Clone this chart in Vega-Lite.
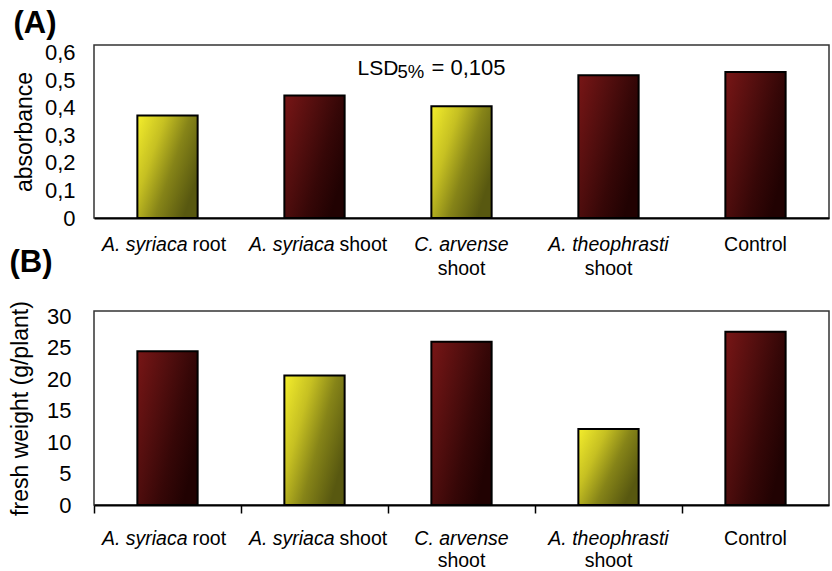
{
  "$schema": "https://vega.github.io/schema/vega-lite/v6.json",
  "padding": {"left": 8, "top": 6, "right": 0, "bottom": 0},
  "bounds": "flush",
  "spacing": 93,
  "config": {
    "font": "Liberation Sans",
    "view": {"stroke": "#333333", "strokeWidth": 1.5},
    "axis": {"grid": false, "labelColor": "black", "titleColor": "black", "titleFontWeight": "normal", "labelOverlap": false}
  },
  "datasets": {
    "absorbance": [
      {"treatment": "A. syriaca root", "value": 0.372, "lower": true, "itInline": "A. syriaca", "rgInline": "root", "itLine1": "", "rgLine1": "", "rgLine2": ""},
      {"treatment": "A. syriaca shoot", "value": 0.445, "lower": false, "itInline": "A. syriaca", "rgInline": "shoot", "itLine1": "", "rgLine1": "", "rgLine2": ""},
      {"treatment": "C. arvense shoot", "value": 0.406, "lower": true, "itInline": "", "rgInline": "", "itLine1": "C. arvense", "rgLine1": "", "rgLine2": "shoot"},
      {"treatment": "A. theophrasti shoot", "value": 0.518, "lower": false, "itInline": "", "rgInline": "", "itLine1": "A. theophrasti", "rgLine1": "", "rgLine2": "shoot"},
      {"treatment": "Control", "value": 0.53, "lower": false, "itInline": "", "rgInline": "", "itLine1": "", "rgLine1": "Control", "rgLine2": ""}
    ],
    "freshweight": [
      {"treatment": "A. syriaca root", "value": 24.4, "lower": false, "itInline": "A. syriaca", "rgInline": "root", "itLine1": "", "rgLine1": "", "rgLine2": ""},
      {"treatment": "A. syriaca shoot", "value": 20.55, "lower": true, "itInline": "A. syriaca", "rgInline": "shoot", "itLine1": "", "rgLine1": "", "rgLine2": ""},
      {"treatment": "C. arvense shoot", "value": 25.9, "lower": false, "itInline": "", "rgInline": "", "itLine1": "C. arvense", "rgLine1": "", "rgLine2": "shoot"},
      {"treatment": "A. theophrasti shoot", "value": 12.05, "lower": true, "itInline": "", "rgInline": "", "itLine1": "A. theophrasti", "rgLine1": "", "rgLine2": "shoot"},
      {"treatment": "Control", "value": 27.5, "lower": false, "itInline": "", "rgInline": "", "itLine1": "", "rgLine1": "Control", "rgLine2": ""}
    ]
  },
  "vconcat": [
    {
      "title": {"text": "(A)", "anchor": "start", "frame": "bounds", "fontSize": 31, "fontWeight": "bold", "color": "black", "font": "Liberation Sans", "offset": 2},
      "width": 735,
      "height": 173,
      "data": {"name": "absorbance"},
      "encoding": {
        "x": {"field": "treatment", "type": "nominal",
              "sort": ["A. syriaca root", "A. syriaca shoot", "C. arvense shoot", "A. theophrasti shoot", "Control"],
              "scale": {"domain": ["A. syriaca root", "A. syriaca shoot", "C. arvense shoot", "A. theophrasti shoot", "Control"], "paddingInner": 0, "paddingOuter": 0},
              "axis": {"labels": false, "ticks": false, "domain": true, "domainColor": "black", "domainWidth": 2, "title": null}}
      },
      "layer": [
        {
          "transform": [{"filter": "!datum.lower"}],
          "mark": {"type": "bar", "width": {"band": 0.41}, "stroke": "black", "strokeWidth": 2,
                   "fill": {"gradient": "linear", "x1": 0, "y1": 0, "x2": 1, "y2": 0.6, "stops": [{"offset": 0, "color": "#781616"}, {"offset": 0.4, "color": "#520e0e"}, {"offset": 0.7, "color": "#360707"}, {"offset": 1, "color": "#210202"}]}},
          "encoding": {
            "y": {"field": "value", "type": "quantitative",
                  "scale": {"domain": [0, 0.628], "nice": false},
                  "axis": {"title": "absorbance", "titleFontSize": 23, "titlePadding": 8, "labelFontSize": 22, "labelPadding": 19,
                           "labelOverlap": false, "tickCount": 7,
                           "ticks": false, "domain": false, "values": [0, 0.1, 0.2, 0.3, 0.4, 0.5, 0.6],
                           "labelExpr": "datum.value == 0 ? '0' : replace(format(datum.value, '.1f'), '.', ',')"}}
          }
        },
        {
          "transform": [{"filter": "datum.lower"}],
          "mark": {"type": "bar", "width": {"band": 0.41}, "stroke": "black", "strokeWidth": 2,
                   "fill": {"gradient": "linear", "x1": 0, "y1": 0, "x2": 1, "y2": 0.6, "stops": [{"offset": 0, "color": "#f4ee2c"}, {"offset": 0.35, "color": "#c6c022"}, {"offset": 0.65, "color": "#868418"}, {"offset": 1, "color": "#585810"}]}},
          "encoding": {"y": {"field": "value", "type": "quantitative"}}
        },
        {
          "mark": {"type": "text", "align": "right", "baseline": "alphabetic", "dx": 20, "dy": 33, "fontSize": 19.5, "fontStyle": "italic", "color": "black"},
          "encoding": {"y": {"value": "height"}, "text": {"field": "itInline"}}
        },
        {
          "mark": {"type": "text", "align": "left", "baseline": "alphabetic", "dx": 25, "dy": 33, "fontSize": 19.5, "color": "black"},
          "encoding": {"y": {"value": "height"}, "text": {"field": "rgInline"}}
        },
        {
          "mark": {"type": "text", "align": "center", "baseline": "alphabetic", "dy": 33, "fontSize": 19.5, "fontStyle": "italic", "color": "black"},
          "encoding": {"y": {"value": "height"}, "text": {"field": "itLine1"}}
        },
        {
          "mark": {"type": "text", "align": "center", "baseline": "alphabetic", "dy": 33, "fontSize": 19.5, "color": "black"},
          "encoding": {"y": {"value": "height"}, "text": {"field": "rgLine1"}}
        },
        {
          "mark": {"type": "text", "align": "center", "baseline": "alphabetic", "dy": 57, "fontSize": 19.5, "color": "black"},
          "encoding": {"y": {"value": "height"}, "text": {"field": "rgLine2"}}
        },
        {
          "data": {"values": [{}]},
          "mark": {"type": "text", "text": "LSD", "align": "left", "baseline": "alphabetic", "dx": -104, "fontSize": 21, "color": "black"},
          "encoding": {"x": {"datum": "C. arvense shoot"}, "y": {"datum": 0.52}}
        },
        {
          "data": {"values": [{}]},
          "mark": {"type": "text", "text": "5%", "align": "left", "baseline": "alphabetic", "dx": -64, "dy": 3, "fontSize": 18.5, "color": "black"},
          "encoding": {"x": {"datum": "C. arvense shoot"}, "y": {"datum": 0.52}}
        },
        {
          "data": {"values": [{}]},
          "mark": {"type": "text", "text": "= 0,105", "align": "left", "baseline": "alphabetic", "dx": -30, "fontSize": 22, "color": "black"},
          "encoding": {"x": {"datum": "C. arvense shoot"}, "y": {"datum": 0.52}}
        }
      ]
    },
    {
      "title": {"text": "(B)", "anchor": "start", "frame": "bounds", "fontSize": 31, "fontWeight": "bold", "color": "black", "font": "Liberation Sans", "offset": 22},
      "width": 735,
      "height": 194,
      "data": {"name": "freshweight"},
      "encoding": {
        "x": {"field": "treatment", "type": "nominal",
              "sort": ["A. syriaca root", "A. syriaca shoot", "C. arvense shoot", "A. theophrasti shoot", "Control"],
              "scale": {"domain": ["A. syriaca root", "A. syriaca shoot", "C. arvense shoot", "A. theophrasti shoot", "Control"], "paddingInner": 0, "paddingOuter": 0},
              "axis": {"labels": false, "ticks": true, "tickSize": 8, "tickWidth": 1.5, "tickColor": "black", "bandPosition": 0,
                       "domain": true, "domainColor": "black", "domainWidth": 2, "title": null}}
      },
      "layer": [
        {
          "transform": [{"filter": "!datum.lower"}],
          "mark": {"type": "bar", "width": {"band": 0.41}, "stroke": "black", "strokeWidth": 2,
                   "fill": {"gradient": "linear", "x1": 0, "y1": 0, "x2": 1, "y2": 0.6, "stops": [{"offset": 0, "color": "#781616"}, {"offset": 0.4, "color": "#520e0e"}, {"offset": 0.7, "color": "#360707"}, {"offset": 1, "color": "#210202"}]}},
          "encoding": {
            "y": {"field": "value", "type": "quantitative",
                  "scale": {"domain": [0, 30.8], "nice": false},
                  "axis": {"title": "fresh weight (g/plant)", "titleFontSize": 23, "titlePadding": 14, "labelFontSize": 22, "labelPadding": 23,
                           "labelOverlap": false, "tickCount": 7,
                           "ticks": false, "domain": false, "values": [0, 5, 10, 15, 20, 25, 30]}}
          }
        },
        {
          "transform": [{"filter": "datum.lower"}],
          "mark": {"type": "bar", "width": {"band": 0.41}, "stroke": "black", "strokeWidth": 2,
                   "fill": {"gradient": "linear", "x1": 0, "y1": 0, "x2": 1, "y2": 0.6, "stops": [{"offset": 0, "color": "#f4ee2c"}, {"offset": 0.35, "color": "#c6c022"}, {"offset": 0.65, "color": "#868418"}, {"offset": 1, "color": "#585810"}]}},
          "encoding": {"y": {"field": "value", "type": "quantitative"}}
        },
        {
          "mark": {"type": "text", "align": "right", "baseline": "alphabetic", "dx": 20, "dy": 40, "fontSize": 19.5, "fontStyle": "italic", "color": "black"},
          "encoding": {"y": {"value": "height"}, "text": {"field": "itInline"}}
        },
        {
          "mark": {"type": "text", "align": "left", "baseline": "alphabetic", "dx": 25, "dy": 40, "fontSize": 19.5, "color": "black"},
          "encoding": {"y": {"value": "height"}, "text": {"field": "rgInline"}}
        },
        {
          "mark": {"type": "text", "align": "center", "baseline": "alphabetic", "dy": 40, "fontSize": 19.5, "fontStyle": "italic", "color": "black"},
          "encoding": {"y": {"value": "height"}, "text": {"field": "itLine1"}}
        },
        {
          "mark": {"type": "text", "align": "center", "baseline": "alphabetic", "dy": 40, "fontSize": 19.5, "color": "black"},
          "encoding": {"y": {"value": "height"}, "text": {"field": "rgLine1"}}
        },
        {
          "mark": {"type": "text", "align": "center", "baseline": "alphabetic", "dy": 62, "fontSize": 19.5, "color": "black"},
          "encoding": {"y": {"value": "height"}, "text": {"field": "rgLine2"}}
        }
      ]
    }
  ]
}
